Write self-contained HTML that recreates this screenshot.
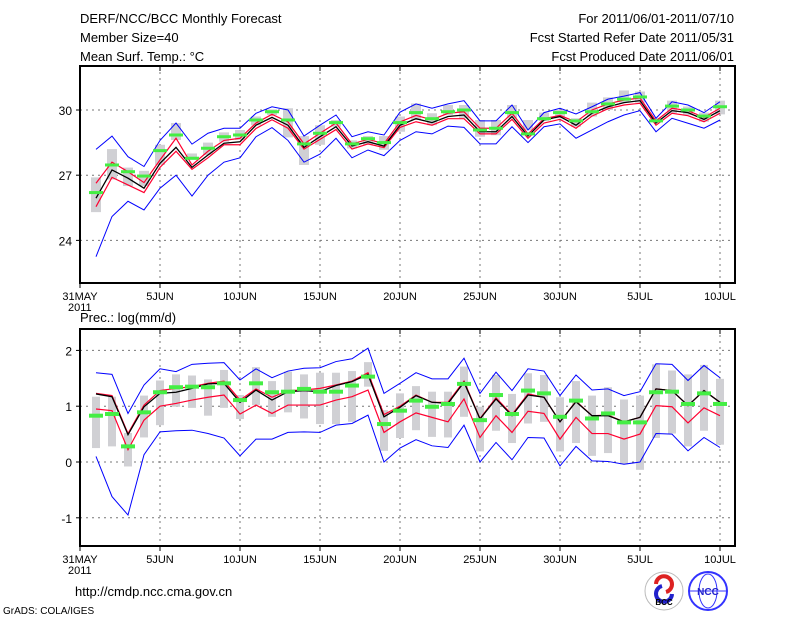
<!DOCTYPE html>
<html><head><meta charset="utf-8"><style>
body{margin:0;background:#fff;}
svg{display:block;font-family:"Liberation Sans",sans-serif;}
</style></head><body>
<svg id="c" width="800" height="618" xmlns="http://www.w3.org/2000/svg">
<rect width="800" height="618" fill="#fff"/>
<g font-size="13" fill="#000">
<text x="80" y="23">DERF/NCC/BCC Monthly Forecast</text>
<text x="80" y="42">Member Size=40</text>
<text x="80" y="61">Mean Surf. Temp.: °C</text>
<text x="734" y="23" text-anchor="end">For 2011/06/01-2011/07/10</text>
<text x="734" y="42" text-anchor="end">Fcst Started Refer Date 2011/05/31</text>
<text x="734" y="61" text-anchor="end">Fcst Produced Date 2011/06/01</text>
<text x="80" y="322">Prec.: log(mm/d)</text>
<text x="75" y="596">http://cmdp.ncc.cma.gov.cn</text>
<text x="3" y="614" font-size="10">GrADS: COLA/IGES</text>
</g>
<g>
<circle cx="664" cy="591" r="19" fill="#fff" stroke="#bbb"/>
<path d="M656 584 a8 8 0 1 1 10 8" fill="none" stroke="#d22" stroke-width="4"/>
<path d="M672 594 a8 8 0 1 1 -10 -8" fill="none" stroke="#22c" stroke-width="4"/>
<text x="664" y="605" font-size="8" text-anchor="middle" font-weight="bold">BCC</text>
</g>
<g>
<circle cx="708" cy="591" r="19" fill="#fff" stroke="#33f" stroke-width="2"/>
<ellipse cx="708" cy="591" rx="9" ry="17" fill="none" stroke="#33f"/>
<line x1="690" y1="591" x2="726" y2="591" stroke="#33f"/>
<text x="708" y="595" font-size="10" text-anchor="middle" fill="#22c" font-weight="bold">NCC</text>
</g>
<g id="p1"></g><g id="p2"></g>
</svg>
<script>
// ---- Temperature panel data (days 1..40 => Jun1..Jul10) ----
const tBlueUp=[28.19,28.8,27.85,27.4,28.6,29.4,28.43,28.93,29.16,29.16,29.85,30.15,30.0,28.8,29.3,29.77,28.77,29.0,28.85,29.9,30.28,30.08,30.28,30.43,29.5,29.5,30.23,29.08,29.88,30.08,29.82,30.15,30.5,30.64,30.8,29.62,30.38,30.23,29.88,30.38];
const tBlueLo=[23.25,25.1,25.8,25.4,26.4,27.0,26.04,27.0,27.6,27.8,28.77,29.19,28.6,27.6,27.97,28.7,27.8,28.16,27.9,28.6,29.0,28.9,29.26,29.2,28.44,28.44,29.23,28.5,29.23,29.36,28.7,29.08,29.46,29.77,29.97,29.0,29.62,29.39,29.16,29.54];
const tRedUp=[26.63,27.6,27.16,26.66,27.7,28.7,27.47,28.1,28.6,28.7,29.4,29.8,29.45,28.44,28.93,29.4,28.44,28.65,28.45,29.45,29.75,29.55,29.85,29.92,29.16,29.16,29.85,28.9,29.6,29.75,29.45,30.0,30.28,30.46,30.55,29.5,30.08,29.97,29.66,30.08];
const tRedLo=[25.55,26.9,26.55,26.2,27.36,28.1,27.27,27.8,28.4,28.4,29.15,29.55,29.16,28.2,28.65,29.1,28.2,28.44,28.27,29.2,29.46,29.3,29.6,29.6,28.9,28.9,29.57,28.7,29.4,29.57,29.16,29.72,30.06,30.23,30.31,29.3,29.85,29.74,29.46,29.85];
const tMean=[25.94,27.24,26.86,26.4,27.55,28.28,27.36,27.93,28.47,28.54,29.3,29.66,29.3,28.28,28.77,29.23,28.34,28.54,28.34,29.3,29.6,29.42,29.7,29.77,29.0,29.0,29.7,28.8,29.54,29.7,29.3,29.85,30.15,30.34,30.43,29.4,29.97,29.88,29.57,29.97];
const tObs=[26.2,27.47,27.16,26.96,28.13,28.85,27.78,28.24,28.77,28.85,29.54,29.92,29.54,28.44,28.93,29.42,28.44,28.68,28.5,29.42,29.88,29.6,29.92,30.0,29.08,29.16,29.88,28.9,29.6,29.88,29.5,29.92,30.28,30.5,30.6,29.5,30.18,30.0,29.72,30.15];
const tBoxHi=[26.9,28.2,27.35,27.2,28.4,29.4,28.0,28.5,28.97,29.08,29.7,30.03,30.08,28.8,29.3,29.54,28.6,28.8,28.8,29.7,30.3,29.85,30.23,30.23,29.54,29.54,30.23,29.54,29.88,30.0,29.62,30.34,30.58,30.9,30.85,29.62,30.43,30.16,29.88,30.43];
const tBoxLo=[25.3,26.8,26.5,26.5,27.47,28.62,27.7,27.93,28.54,28.62,29.3,29.77,28.74,27.47,28.4,29.23,28.23,28.4,28.17,29.0,29.54,29.3,29.77,29.62,28.77,28.84,29.62,29.08,29.5,29.62,29.23,29.7,30.0,30.34,30.34,29.46,29.85,29.77,29.46,29.8];
const tTicks=[24,27,30];
// ---- Precipitation panel data ----
const pBlueUp=[1.6,1.57,0.87,1.38,1.67,1.62,1.75,1.77,1.78,1.47,1.67,1.51,1.63,1.68,1.69,1.8,1.85,2.04,1.23,1.41,1.6,1.49,1.49,1.86,1.23,1.61,1.28,1.67,1.63,1.19,1.56,1.29,1.31,1.19,1.26,1.76,1.75,1.46,1.73,1.51];
const pBlueLo=[0.1,-0.62,-0.95,0.13,0.54,0.56,0.57,0.51,0.43,0.11,0.41,0.41,0.53,0.54,0.53,0.66,0.69,0.84,0.0,0.25,0.4,0.29,0.26,0.66,0.0,0.35,0.04,0.44,0.43,-0.07,0.28,0.02,0.01,-0.04,0.0,0.51,0.5,0.2,0.44,0.26];
const pRedUp=[1.23,1.19,0.51,1.02,1.28,1.32,1.35,1.41,1.45,1.11,1.31,1.16,1.28,1.29,1.32,1.38,1.45,1.6,0.85,1.0,1.2,1.07,1.07,1.45,0.78,1.15,0.85,1.22,1.16,0.72,1.09,0.83,0.84,0.72,0.8,1.31,1.28,1.01,1.28,1.07];
const pRedLo=[0.95,0.92,0.22,0.75,1.0,1.05,1.11,1.16,1.2,0.86,1.02,0.87,1.02,1.02,1.02,1.11,1.17,1.29,0.53,0.72,0.88,0.8,0.72,1.13,0.44,0.83,0.53,0.91,0.87,0.41,0.8,0.51,0.51,0.41,0.5,1.01,0.99,0.7,0.97,0.83];
const pMean=[1.22,1.17,0.49,0.99,1.23,1.25,1.32,1.4,1.41,1.07,1.29,1.11,1.26,1.28,1.26,1.37,1.44,1.57,0.81,0.98,1.19,1.07,1.05,1.43,0.77,1.13,0.83,1.2,1.16,0.72,1.08,0.83,0.83,0.72,0.8,1.31,1.28,1.01,1.28,1.07];
const pObs=[0.83,0.86,0.28,0.89,1.25,1.34,1.35,1.34,1.41,1.11,1.41,1.25,1.26,1.31,1.26,1.26,1.37,1.53,0.68,0.92,1.1,0.99,1.04,1.4,0.75,1.2,0.86,1.28,1.23,0.81,1.1,0.78,0.87,0.71,0.71,1.25,1.26,1.04,1.23,1.04];
const pBoxHi=[1.17,1.17,0.52,1.19,1.46,1.57,1.55,1.48,1.65,1.2,1.7,1.45,1.62,1.57,1.6,1.6,1.63,1.79,0.93,1.23,1.36,1.26,1.26,1.71,0.99,1.56,1.22,1.59,1.56,1.16,1.45,1.19,1.34,1.12,1.19,1.75,1.64,1.57,1.74,1.49];
const pBoxLo=[0.25,0.28,-0.08,0.44,0.66,0.99,0.97,0.83,0.97,0.77,1.02,0.81,0.89,0.78,0.68,0.68,0.72,1.35,0.2,0.43,0.57,0.45,0.44,0.81,0.19,0.56,0.34,0.69,0.72,0.19,0.34,0.11,0.16,-0.04,-0.14,0.43,0.51,0.28,0.56,0.31];
const pTicks=[-1,0,1,2];
const dayTicks=[0,5,10,15,20,25,30,35,40];
const dayLabels=["31MAY","5JUN","10JUN","15JUN","20JUN","25JUN","30JUN","5JUL","10JUL"];

const NS="http://www.w3.org/2000/svg";
const xL=80,xR=735;
function xs(d){return xL+16*d;}
function mk(par,tag,at){const e=document.createElementNS(NS,tag);for(const k in at)e.setAttribute(k,at[k]);par.appendChild(e);return e;}

function panel(gid,top,bot,vmin,vmax,ticks,box,boxW,obsH,series,name){
  const g=document.getElementById(gid);
  
  
  const ys=v=>bot-(v-vmin)/(vmax-vmin)*(bot-top);
  ticks.forEach(t=>{
    const l=mk(g,'line',{x1:xL,x2:xR,y1:ys(t),y2:ys(t),stroke:'#777','stroke-dasharray':'2,4','stroke-width':1});
    
    
    const tx=mk(g,'text',{x:xL-8,y:ys(t)+5,'text-anchor':'end','font-size':12});
    tx.textContent=String(t);
    
    
    mk(g,'line',{x1:xL-4,x2:xL,y1:ys(t),y2:ys(t),stroke:'#000'});
  });
  dayTicks.forEach((d,i)=>{
    if(d>0){const l=mk(g,'line',{x1:xs(d),x2:xs(d),y1:top,y2:bot,stroke:'#777','stroke-dasharray':'2,4'});
    
    }
    mk(g,'line',{x1:xs(d),x2:xs(d),y1:bot,y2:bot+5,stroke:'#000'});
    mk(g,'line',{x1:xs(d),x2:xs(d),y1:top,y2:top+5,stroke:'#000'});
    const tx=mk(g,'text',{x:xs(d),y:bot+17,'text-anchor':'middle','font-size':11});
    tx.textContent=dayLabels[i];
    
    
  });
  const yr=mk(g,'text',{x:xL-12,y:bot+28,'font-size':11});
  yr.textContent='2011';
  
  
  box.hi.forEach((h,i)=>{
    const lo=box.lo[i];
    const r=mk(g,'rect',{x:xs(i+1)-boxW/2,y:ys(h),width:boxW,height:Math.max(1,ys(lo)-ys(h)),fill:'#d0d0d4'});
    
    
  });
  const line=(arr,col,w,nm)=>{
    const p=mk(g,'polyline',{points:arr.map((v,i)=>xs(i+1)+','+ys(v)).join(' '),fill:'none',stroke:col,'stroke-width':w});
    
    
  };
  line(series.bu,'#0000ff',1,'blue-upper-line');
  line(series.bl,'#0000ff',1,'blue-lower-line');
  line(series.ru,'#ff0030',1.2,'red-upper-line');
  line(series.rl,'#ff0030',1.2,'red-lower-line');
  line(series.m,'#000',1.3,'ensemble-mean-line');
  series.o.forEach((v,i)=>{
    const r=mk(g,'rect',{x:xs(i+1)-7,y:ys(v)-obsH/2,width:14,height:obsH,fill:'#44ee44'});
    
    
  });
  const f=mk(g,'rect',{x:xL,y:top,width:xR-xL,height:bot-top,fill:'none',stroke:'#000','stroke-width':2});
  
  
}
// temp axis: 30 at y=110, 21.73 px/deg
panel('p1',66,283,30-(283-110)/21.73,30+(110-66)/21.73,tTicks,{hi:tBoxHi,lo:tBoxLo},10,3,
  {bu:tBlueUp,bl:tBlueLo,ru:tRedUp,rl:tRedLo,m:tMean,o:tObs},'temperature-panel');
// precip axis: 0 at y=462, 55.8 px/unit
panel('p2',329,546,-(546-462)/55.8,(462-329)/55.8,pTicks,{hi:pBoxHi,lo:pBoxLo},8,4,
  {bu:pBlueUp,bl:pBlueLo,ru:pRedUp,rl:pRedLo,m:pMean,o:pObs},'precipitation-panel');
</script>
</body></html>
